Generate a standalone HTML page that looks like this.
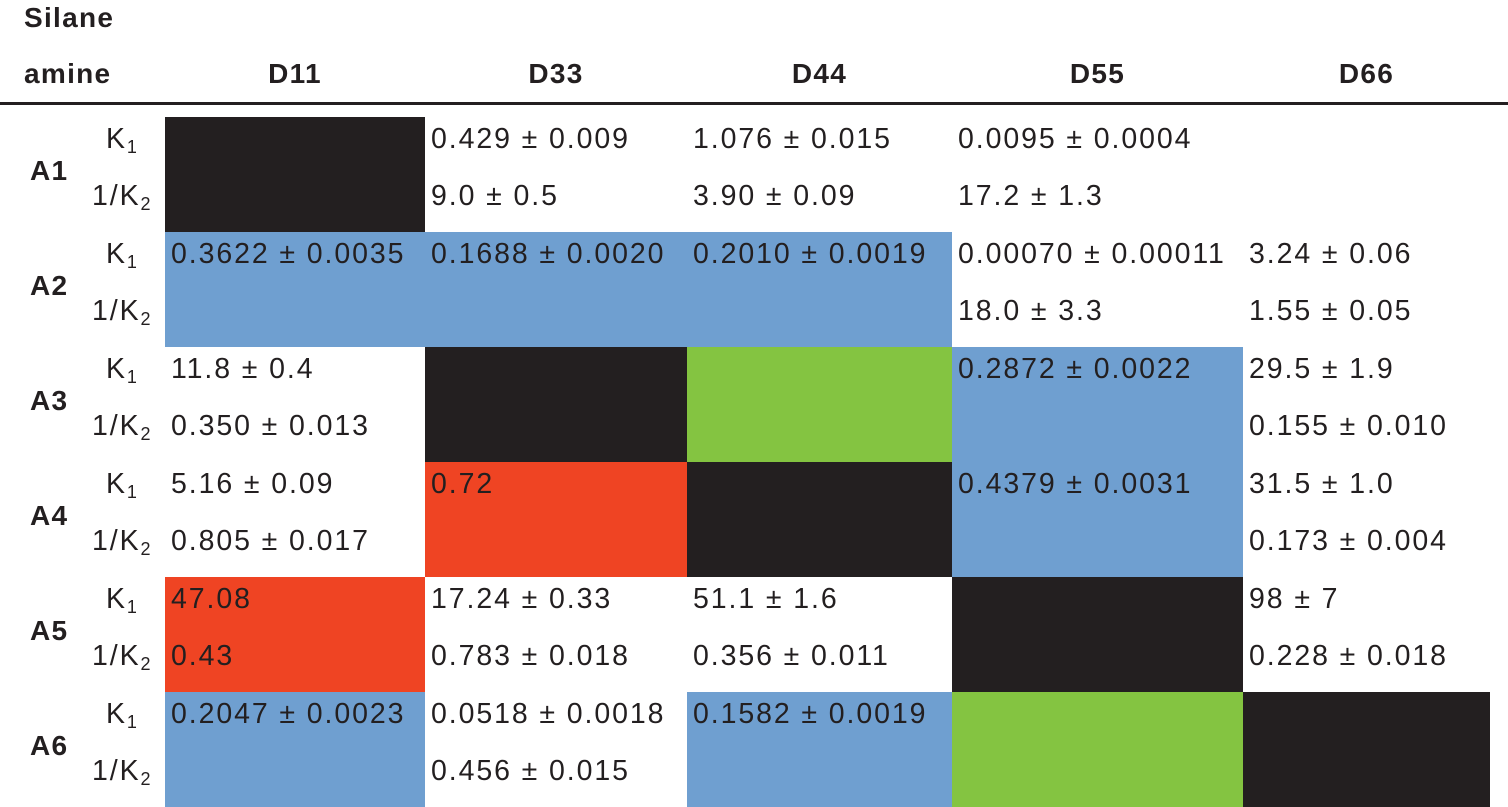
<!DOCTYPE html>
<html><head><meta charset="utf-8">
<style>
body{margin:0;width:1508px;height:807px;background:#fff;position:relative;overflow:hidden;font-family:"Liberation Sans","DejaVu Sans",sans-serif;color:#231f20}
.a{position:absolute;white-space:nowrap}
.h{font-weight:bold;font-size:28px;letter-spacing:1.3px}
.t{font-size:28.5px;line-height:30px;letter-spacing:1.9px}
sub{font-size:18px;vertical-align:-5px}
</style></head><body>
<div class="a h" style="left:24px;top:2px">Silane</div>
<div class="a h" style="left:24px;top:58px">amine</div>
<div class="a" style="left:0;top:102px;width:1508px;height:3px;background:#231f20"></div>
<div id="root"></div>
<script>
const cols=["D11","D33","D44","D55","D66"];
const rows=["A1","A2","A3","A4","A5","A6"];
const colors=[
 ["k","w","w","w","w"],
 ["b","b","b","w","w"],
 ["w","k","g","b","w"],
 ["w","r","k","b","w"],
 ["r","w","w","k","w"],
 ["b","w","b","g","k"]];
const k1=[
 ["","0.429 ± 0.009","1.076 ± 0.015","0.0095 ± 0.0004",""],
 ["0.3622 ± 0.0035","0.1688 ± 0.0020","0.2010 ± 0.0019","0.00070 ± 0.00011","3.24 ± 0.06"],
 ["11.8 ± 0.4","","","0.2872 ± 0.0022","29.5 ± 1.9"],
 ["5.16 ± 0.09","0.72","","0.4379 ± 0.0031","31.5 ± 1.0"],
 ["47.08","17.24 ± 0.33","51.1 ± 1.6","","98 ± 7"],
 ["0.2047 ± 0.0023","0.0518 ± 0.0018","0.1582 ± 0.0019","",""]];
const k2=[
 ["","9.0 ± 0.5","3.90 ± 0.09","17.2 ± 1.3",""],
 ["","","","18.0 ± 3.3","1.55 ± 0.05"],
 ["0.350 ± 0.013","","","","0.155 ± 0.010"],
 ["0.805 ± 0.017","","","","0.173 ± 0.004"],
 ["0.43","0.783 ± 0.018","0.356 ± 0.011","","0.228 ± 0.018"],
 ["","0.456 ± 0.015","","",""]];
const edges=[165,425,687,952,1243,1490];
const top0=117,rh=115;
const pal={k:"#231f20",b:"#6f9fd0",g:"#84c441",r:"#ef4423",w:"#fff"};
const root=document.getElementById('root');
function mk(cls,css,txt,name){const d=document.createElement('div');d.className='a '+cls;d.style.cssText=css;if(txt!==null)d.innerHTML=txt;


root.appendChild(d);return d;}
cols.forEach((c,j)=>{const cx=(edges[j]+edges[j+1])/2;
 mk('h',`left:${cx-60}px;width:120px;text-align:center;top:58px`,c,'column-header-'+c.toLowerCase());});
rows.forEach((r,i)=>{const y=top0+i*rh;
 mk('h',`left:30px;top:${y+38}px`,r,'row-header-'+r.toLowerCase());
 mk('t',`left:106px;top:${y+7}px`,'K<sub>1</sub>','k1-label-'+r.toLowerCase());
 mk('t',`left:92px;top:${y+64}px`,'1/K<sub>2</sub>','k2-label-'+r.toLowerCase());
 cols.forEach((c,j)=>{const x=edges[j],w=edges[j+1]-x;
  mk('',`left:${x}px;top:${y}px;width:${w}px;height:${rh}px;background:${pal[colors[i][j]]}`,null,'cell-'+r.toLowerCase()+'-'+c.toLowerCase());
  if(k1[i][j])mk('t',`left:${x+6}px;top:${y+7}px`,k1[i][j],'k1-value-'+r.toLowerCase()+'-'+c.toLowerCase());
  if(k2[i][j])mk('t',`left:${x+6}px;top:${y+64}px`,k2[i][j],'k2-value-'+r.toLowerCase()+'-'+c.toLowerCase());
 });
});
</script>
</body></html>
